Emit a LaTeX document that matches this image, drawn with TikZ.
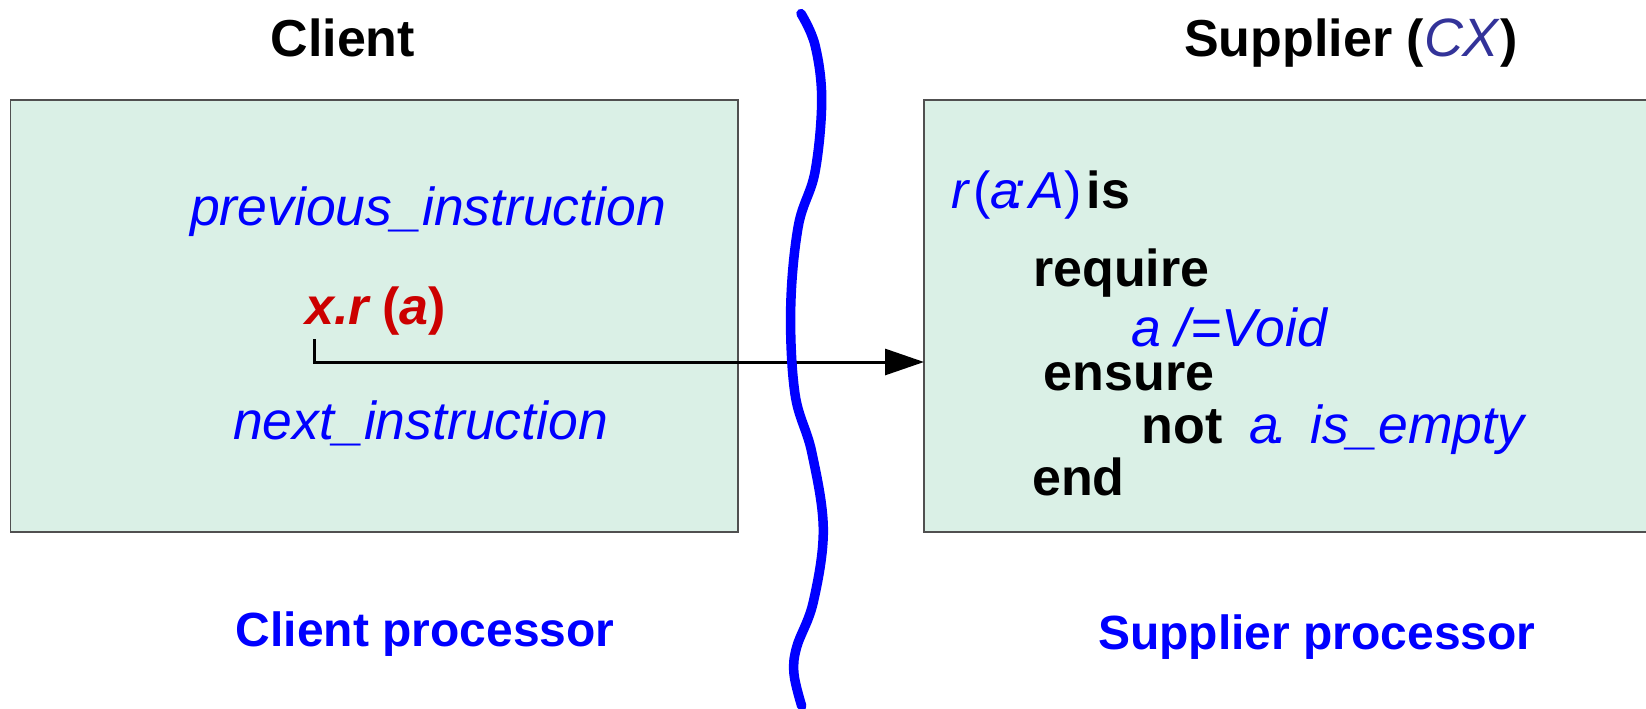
\documentclass[tikz,border=0pt]{standalone}
\usepackage{fontspec}
\setmainfont{Liberation Sans}
\usetikzlibrary{arrows.meta}
\definecolor{boxfill}{RGB}{218,240,230}
\definecolor{boxline}{RGB}{80,80,80}
\definecolor{kwblue}{RGB}{0,0,255}
\definecolor{callred}{RGB}{204,0,0}
\definecolor{classblue}{RGB}{51,51,153}
\newcommand{\slidefont}{\fontsize{52}{60}\selectfont}
\newcommand{\slideit}{\fontsize{53.5}{60}\selectfont\itshape}
\begin{document}
\begin{tikzpicture}[x=1pt,y=-1pt,
  txt/.style={inner sep=0pt, anchor=base west, font=\slidefont},
  ittxt/.style={inner sep=0pt, anchor=base west, text=kwblue, font=\slideit},
  kwtxt/.style={inner sep=0pt, anchor=base west, font=\slidefont\bfseries},
  title/.style={inner sep=0pt, anchor=base, font=\slidefont\bfseries},
  proc/.style={inner sep=0pt, anchor=base west, text=kwblue, font=\fontsize{48}{56}\selectfont\bfseries},
  procbox/.style={draw=boxline, line width=1.5pt, fill=boxfill},
  callarrow/.style={draw=black, line width=3pt, -{Triangle[length=39pt,width=26pt]}},
  divider/.style={draw=kwblue, line width=9.5pt, line cap=round}
]
\useasboundingbox (0,0) rectangle (1646,709);

% processor boxes
\path[procbox] (10.5,100) rectangle (738,532);
\path[procbox] (924,100) rectangle (1652,532);

% headings
\node[title] (client) at (342.8,56.5) {Client};
\node[txt] (supplier) at (1184,56.5)
  {\textbf{Supplier (}\textcolor{classblue}{\fontsize{54}{60}\selectfont\textit{CX}}\textbf{)}};

% client side
\node[ittxt] (prev) at (190,225) {previous\_instruction};
\node[txt, text=callred, font=\slidefont\bfseries] (call) at (305,324)
  {\textit{x.r}\kern11pt(\textit{a})};
\node[ittxt] (next) at (233,439) {next\_instruction};

% supplier side
\node[txt] (sig) at (951,208)
  {\textcolor{kwblue}{\textit{r}\kern3pt(\textit{a\kern-8pt:\kern4pt A})}\kern5pt\textbf{is}};
\node[kwtxt] (req) at (1033,286) {require};
\node[ittxt] (pre) at (1131,346) {a /=Void};
\node[kwtxt] (ens) at (1043.5,390) {ensure};
\node[txt] (post) at (1141.5,443.5)
  {\textbf{not}\hspace{27pt}\textcolor{kwblue}{\slideit a\kern-6pt.\hspace{22pt}is\_empty}};
\node[kwtxt] (fin) at (1032,495.5) {end};

% processor labels
\node[proc] (clientproc) at (235.6,646) {Client processor};
\node[proc] (supproc) at (1098,649) {Supplier processor};

% call connector
\coordinate (callpt) at (314.5,339);
\coordinate (entry) at (924,362);
\draw[callarrow] (callpt) |- (entry);

% wavy boundary between the two processors
\draw[divider] plot[smooth, tension=0.6] coordinates {
  (801,13.6) (815,45) (821.7,99.5) (815,172) (798.3,226) (790.7,308)
  (795,394) (811.7,452) (823.3,529) (813.3,602) (796.7,647) (794,674) (801.7,706)};
\end{tikzpicture}
\end{document}
